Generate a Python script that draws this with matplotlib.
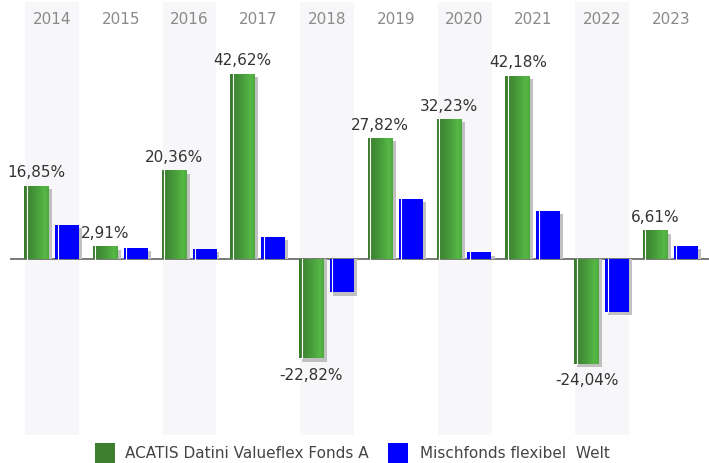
import matplotlib
matplotlib.use("Agg")
import matplotlib.pyplot as plt
import numpy as np
from matplotlib.colors import LinearSegmentedColormap
from matplotlib.patches import Rectangle
import matplotlib.transforms as mtransforms

plt.rcParams['font.family'] = ['DejaVu Sans']

years = ["2014", "2015", "2016", "2017", "2018", "2019", "2020", "2021", "2022", "2023"]
fund = [16.85, 2.91, 20.36, 42.62, -22.82, 27.82, 32.23, 42.18, -24.04, 6.61]
category = [7.9, 2.6, 2.4, 5.1, -7.7, 13.8, 1.6, 11.1, -12.1, 3.0]
fund_labels = ["16,85%", "2,91%", "20,36%", "42,62%", "-22,82%", "27,82%", "32,23%", "42,18%", "-24,04%", "6,61%"]
series_names = ["ACATIS Datini Valueflex Fonds A", "Mischfonds flexibel  Welt"]

W, H = 709, 464
fig = plt.figure(figsize=(W / 100, H / 100), dpi=100)
ax_l, ax_r, ax_t, ax_b = 10, 709, 3, 436
ax = fig.add_axes([ax_l / W, 1 - ax_b / H, (ax_r - ax_l) / W, (ax_b - ax_t) / H])

step = 68.75  # px per category
c0 = 52.0     # px center of first category
ax.set_xlim((ax_l - c0) / step, (ax_r - c0) / step)
ppu = 4.35    # px per percent
base_px = 260
ax.set_ylim(-(ax_b - base_px) / ppu, (base_px - ax_t) / ppu)
ax.axis('off')

px = 1.0 / step
py = 1.0 / ppu

x = np.arange(len(years))

for i in x:
    if i % 2 == 0:
        ax.axvspan(i - 27 * px, i + 27 * px, color='#f7f7f9', zorder=0, lw=0)
    ax.text(i, 1 - 17 / (ax_b - ax_t), years[i],
            transform=mtransforms.blended_transform_factory(ax.transData, ax.transAxes),
            ha='center', va='center', fontsize=11, color='#8a8a8a', zorder=1)

ax.axhline(0, color='#555555', lw=1.1, zorder=2)

g_off, g_w = -15.5 * px, 25 * px
b_off, b_w = 15.0 * px, 24 * px
sdx, sdy = 3 * px, 3.5 * py

green_cmap = LinearSegmentedColormap.from_list(
    'g', [(0.0, '#3a7a2d'), (0.45, '#46983a'), (0.85, '#56b844'), (1.0, '#4ea83f')])
grad = np.linspace(0, 1, 64).reshape(1, -1)

for i in x:
    for off, w, v in ((g_off, g_w, fund[i]), (b_off, b_w, category[i])):
        ax.bar(i + off + sdx, v - sdy, width=w, bottom=0, color='#c0c0c0', lw=0, zorder=3)
    gb = ax.bar(i + g_off, fund[i], width=g_w, color='#3d7f2e', lw=0, zorder=4)[0]
    im = ax.imshow(grad, cmap=green_cmap, aspect='auto', zorder=5,
                   extent=[i + g_off - g_w / 2, i + g_off + g_w / 2, 0, fund[i]])
    im.set_clip_path(gb)
    ax.bar(i + b_off, category[i], width=b_w, color='#0000ff', lw=0, zorder=4)
    ax.plot([i + g_off - g_w / 2 + 2.5 * px] * 2, [0, fund[i]], color='white', lw=0.8, zorder=6)
    ax.plot([i + b_off - b_w / 2 + 2.5 * px] * 2, [0, category[i]], color='white', lw=0.8, zorder=6)
    if fund[i] >= 0:
        ax.annotate(fund_labels[i], (i + g_off, fund[i]), xytext=(0, 4.5), textcoords='offset points',
                    ha='center', va='bottom', fontsize=11, color='#333333', zorder=7)
    else:
        ax.annotate(fund_labels[i], (i + g_off, fund[i]), xytext=(0, -6), textcoords='offset points',
                    ha='center', va='top', fontsize=11, color='#333333', zorder=7)

leg_y = 454
for sx, tx, col, name in ((95, 125, '#3d7f2e', series_names[0]), (388, 420, '#0000ff', series_names[1])):
    fig.patches.append(Rectangle((sx / W, 1 - (leg_y + 10) / H), 20 / W, 20 / H,
                                 transform=fig.transFigure, color=col, lw=0))
    fig.text(tx / W, 1 - leg_y / H, name, ha='left', va='center', fontsize=11, color='#444444')

fig.savefig('out.png', dpi=100)
